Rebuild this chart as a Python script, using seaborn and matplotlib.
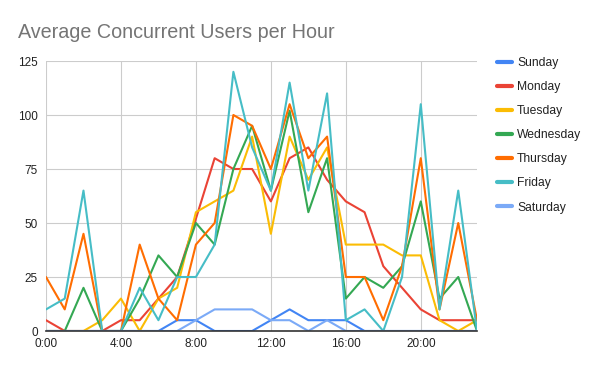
import matplotlib
matplotlib.use("Agg")
import matplotlib.pyplot as plt
import pandas as pd
import seaborn as sns

# hourly averages
hours = list(range(24))
days = ["Sunday", "Monday", "Tuesday", "Wednesday", "Thursday", "Friday", "Saturday"]
sunday = [0, 0, 0, 0, 0, 0, 0, 5, 5, 0, 0, 0, 5, 10, 5, 5, 5, 0, 0, 0, 0, 0, 0, 0]
monday = [5, 0, 0, 0, 5, 5, 15, 25, 52, 80, 75, 75, 60, 80, 85, 70, 60, 55, 30, 20, 10, 5, 5, 5]
tuesday = [0, 0, 0, 5, 15, 0, 15, 20, 55, 60, 65, 90, 45, 90, 70, 85, 40, 40, 40, 35, 35, 5, 0, 5]
wednesday = [0, 0, 20, 0, 0, 15, 35, 25, 50, 40, 75, 95, 65, 102, 55, 80, 15, 25, 20, 30, 60, 15, 25, 0]
thursday = [25, 10, 45, 0, 0, 40, 15, 5, 40, 50, 100, 95, 75, 105, 80, 90, 25, 25, 5, 30, 80, 10, 50, 5]
friday = [10, 15, 65, 0, 0, 20, 5, 25, 25, 40, 120, 85, 65, 115, 65, 110, 5, 10, 0, 25, 105, 10, 65, 0]
saturday = [0, 0, 0, 0, 0, 0, 0, 0, 5, 10, 10, 10, 5, 5, 0, 5, 0, 0, 0, 0, 0, 0, 0, 0]
tick_hours = [0, 4, 8, 12, 16, 20]
tick_labels = ["0:00", "4:00", "8:00", "12:00", "16:00", "20:00"]
y_ticks = [0, 25, 50, 75, 100, 125]

colors = {
    "Sunday": "#4285F4",
    "Monday": "#EA4335",
    "Tuesday": "#FBBC04",
    "Wednesday": "#34A853",
    "Thursday": "#FF6D01",
    "Friday": "#46BDC6",
    "Saturday": "#7BAAF7",
}

series = [sunday, monday, tuesday, wednesday, thursday, friday, saturday]
rows = []
for day, vals in zip(days, series):
    for h, v in zip(hours, vals):
        rows.append({"hour": h, "users": v, "day": day})
df = pd.DataFrame(rows)

sns.set_style("white")
plt.rcParams["font.family"] = ["Liberation Sans", "DejaVu Sans"]

fig = plt.figure(figsize=(6, 3.71), dpi=100)
ax = fig.add_axes([46 / 600, 40 / 371, 431 / 600, 270 / 371])

sns.lineplot(data=df, x="hour", y="users", hue="day", hue_order=days,
             palette=colors, linewidth=1.5, ax=ax, legend=False)

ax.set_xlim(0, 23)
ax.set_ylim(0, 125)
ax.set_xticks(tick_hours)
ax.set_xticklabels(tick_labels)
ax.set_yticks(y_ticks)
ax.set_xlabel("")
ax.set_ylabel("")
ax.grid(True, color="#cccccc", linewidth=0.8)
ax.set_axisbelow(True)
for side in ["top", "right", "left"]:
    ax.spines[side].set_visible(False)
ax.spines["bottom"].set_color("#333333")
ax.spines["bottom"].set_linewidth(1.2)
ax.spines["bottom"].set_zorder(5)
ax.tick_params(axis="both", length=0, labelsize=8.5, colors="#222222")
ax.tick_params(axis="y", pad=6)
ax.tick_params(axis="x", pad=5)

fig.text(18 / 600, 1 - 38 / 371, "Average Concurrent Users per Hour",
         fontsize=14.2, color="#757575", ha="left", va="baseline")

handles = [plt.Line2D([], [], color=colors[d], linewidth=3) for d in days]
fig.legend(handles, days, loc="upper left", bbox_to_anchor=(497 / 600, 1 - 57 / 371),
           frameon=False, fontsize=8.7, handlelength=1.2, handletextpad=0.45,
           labelspacing=1.0, borderpad=0, borderaxespad=0, labelcolor="#222222")

fig.savefig("out.png", dpi=100)
